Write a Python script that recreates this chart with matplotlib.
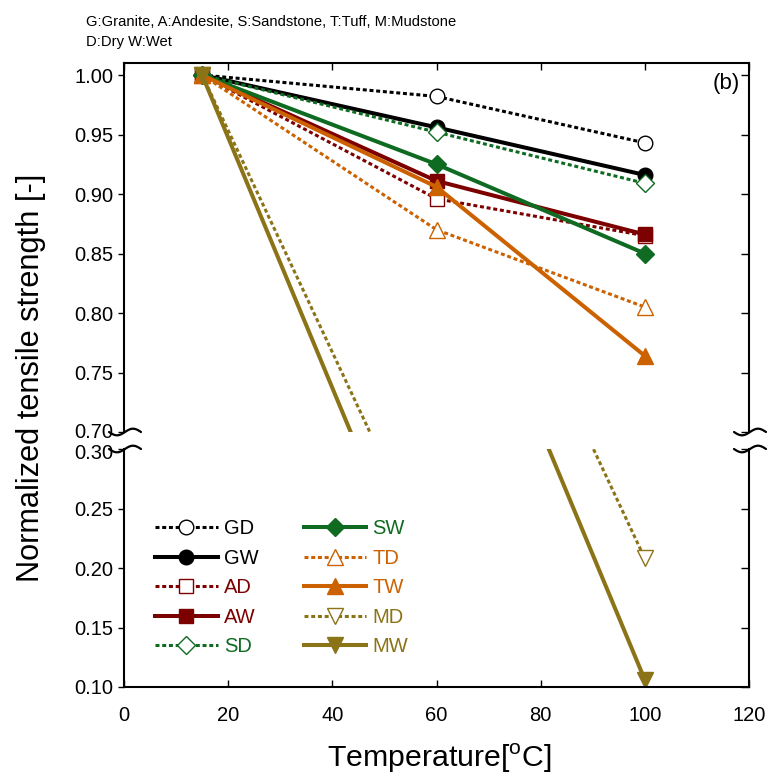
import numpy as np
import matplotlib

matplotlib.use("Agg")
import matplotlib.pyplot as plt
from matplotlib import font_manager
from matplotlib.lines import Line2D
from matplotlib.transforms import ScaledTranslation

# ---- data (normalized tensile strength vs temperature) ----
TEMPS = [15, 60, 100]
TEMPS_M = [15, 100]
GD = [1.0, 0.982, 0.943]
GW = [1.0, 0.956, 0.916]
AD = [1.0, 0.896, 0.865]
AW = [1.0, 0.911, 0.866]
SD = [1.0, 0.952, 0.909]
SW = [1.0, 0.925, 0.850]
TD = [1.0, 0.870, 0.805]
TW = [1.0, 0.906, 0.764]
MD = [1.0, 0.208]
MW = [1.0, 0.106]

BLACK = "#000000"
RED = "#7d0000"
GREEN = "#0f6b22"
ORANGE = "#cc6100"
OLIVE = "#8b7317"

SERIES = [
    ("GD", TEMPS, GD, BLACK, "o", False),
    ("GW", TEMPS, GW, BLACK, "o", True),
    ("AD", TEMPS, AD, RED, "s", False),
    ("AW", TEMPS, AW, RED, "s", True),
    ("SD", TEMPS, SD, GREEN, "D", False),
    ("SW", TEMPS, SW, GREEN, "D", True),
    ("TD", TEMPS, TD, ORANGE, "^", False),
    ("TW", TEMPS, TW, ORANGE, "^", True),
    ("MD", TEMPS_M, MD, OLIVE, "v", False),
    ("MW", TEMPS_M, MW, OLIVE, "v", True),
]
MARKER_SIZE = {"o": 10.5, "s": 10.5, "D": 9, "^": 12, "v": 12}

names = {f.name for f in font_manager.fontManager.ttflist}
NARROW = "Liberation Sans Narrow" if "Liberation Sans Narrow" in names else "Liberation Sans"
SCALE = 1.0 if NARROW == "Liberation Sans Narrow" else 0.82
plt.rcParams["font.family"] = ["Liberation Sans", "DejaVu Sans"]

W, H = 771, 774
fig = plt.figure(figsize=(W / 100, H / 100), dpi=100)
left, right = 124, 749
ax_top = fig.add_axes([left / W, 1 - 432 / H, (right - left) / W, (432 - 63) / H])
ax_bot = fig.add_axes([left / W, 1 - 687 / H, (right - left) / W, (687 - 449) / H])

top_ticks = [0.70, 0.75, 0.80, 0.85, 0.90, 0.95, 1.00]
bot_ticks = [0.10, 0.15, 0.20, 0.25, 0.30]

for ax in (ax_top, ax_bot):
    for label, xs, ys, color, marker, filled in SERIES:
        ax.plot(
            xs, ys, color=color,
            linestyle="-" if filled else (0, (1.3, 0.9)),
            linewidth=2.9 if filled else 2.2,
            marker=marker, markersize=MARKER_SIZE[marker],
            markerfacecolor=color if filled else "white",
            markeredgecolor=color, markeredgewidth=1.0,
            label=label,
        )
    ax.set_xlim(0, 120)
    ax.set_xticks(range(0, 121, 20))
    for s in ax.spines.values():
        s.set_linewidth(1.5)

ax_top.set_ylim(0.70, 1.0101)
ax_bot.set_ylim(0.10, 0.30)
ax_top.set_yticks(top_ticks, [f"{v:.2f}" for v in top_ticks])
ax_bot.set_yticks(bot_ticks, [f"{v:.2f}" for v in bot_ticks])

ax_top.spines["bottom"].set_visible(False)
ax_bot.spines["top"].set_visible(False)
ax_top.tick_params(axis="x", bottom=False, top=True, labelbottom=False,
                   direction="in", length=5, width=1)
ax_bot.tick_params(axis="x", bottom=True, top=False, direction="in",
                   length=5, width=1, labelsize=14.5, pad=14)
for ax in (ax_top, ax_bot):
    ax.tick_params(axis="y", left=True, right=False, direction="out",
                   length=4.5, width=1, labelsize=14.5, pad=3)

# the two labels at the break sit very close; nudge them apart a little
fig.canvas.draw()
lab_70 = ax_top.get_yticklabels()[0]
lab_70.set_transform(lab_70.get_transform() + ScaledTranslation(0, 2 / 100, fig.dpi_scale_trans))
lab_30 = ax_bot.get_yticklabels()[-1]
lab_30.set_transform(lab_30.get_transform() + ScaledTranslation(0, -2 / 100, fig.dpi_scale_trans))

# right-hand ticks point inward
for ax, ticks in ((ax_top, top_ticks), (ax_bot, bot_ticks)):
    tw = ax.twinx()
    tw.set_ylim(ax.get_ylim())
    tw.set_yticks(ticks)
    tw.tick_params(axis="y", direction="in", length=5.5, width=1, labelright=False)
    for s in tw.spines.values():
        s.set_visible(False)

ax_top.text(0.985, 0.972, "(b)", transform=ax_top.transAxes, ha="right", va="top",
            fontsize=16)

leg = ax_bot.legend(
    ncol=2, loc="upper left", bbox_to_anchor=(0.05, 0.705), frameon=False,
    fontsize=14.5, handlelength=3.1, handletextpad=0.3, columnspacing=2.25,
    labelspacing=0.52, borderpad=0, borderaxespad=0, numpoints=1,
    labelcolor="linecolor",
)


# axis break marks
def break_mark(xpx, ypx):
    t = np.linspace(0, 1, 50)
    xs = (xpx - 15 + 32 * t) / W
    ys = 1 - (ypx + 3.3 * np.sin(2 * np.pi * t)) / H
    fig.add_artist(Line2D(xs, ys, transform=fig.transFigure, color="black",
                          linewidth=1.6, solid_capstyle="round"))


for xp in (left, right):
    break_mark(xp, 432)
    break_mark(xp, 449)

fig.text(86 / W, 1 - 26 / H, "G:Granite, A:Andesite, S:Sandstone, T:Tuff, M:Mudstone",
         family=NARROW, fontsize=13 * SCALE, va="baseline", ha="left")
fig.text(86 / W, 1 - 46 / H, "D:Dry W:Wet",
         family=NARROW, fontsize=13 * SCALE, va="baseline", ha="left")
fig.text(31 / W, 1 - 378 / H, "Normalized tensile strength [-]", rotation=90,
         family=NARROW, fontsize=27 * SCALE, ha="center", va="center")
fig.text(439 / W, 1 - 767 / H, r"Temperature[$^{\mathregular{o}}$C]",
         family=NARROW, fontsize=26.6 * SCALE, ha="center", va="baseline")

fig.savefig("out.png", dpi=100)
